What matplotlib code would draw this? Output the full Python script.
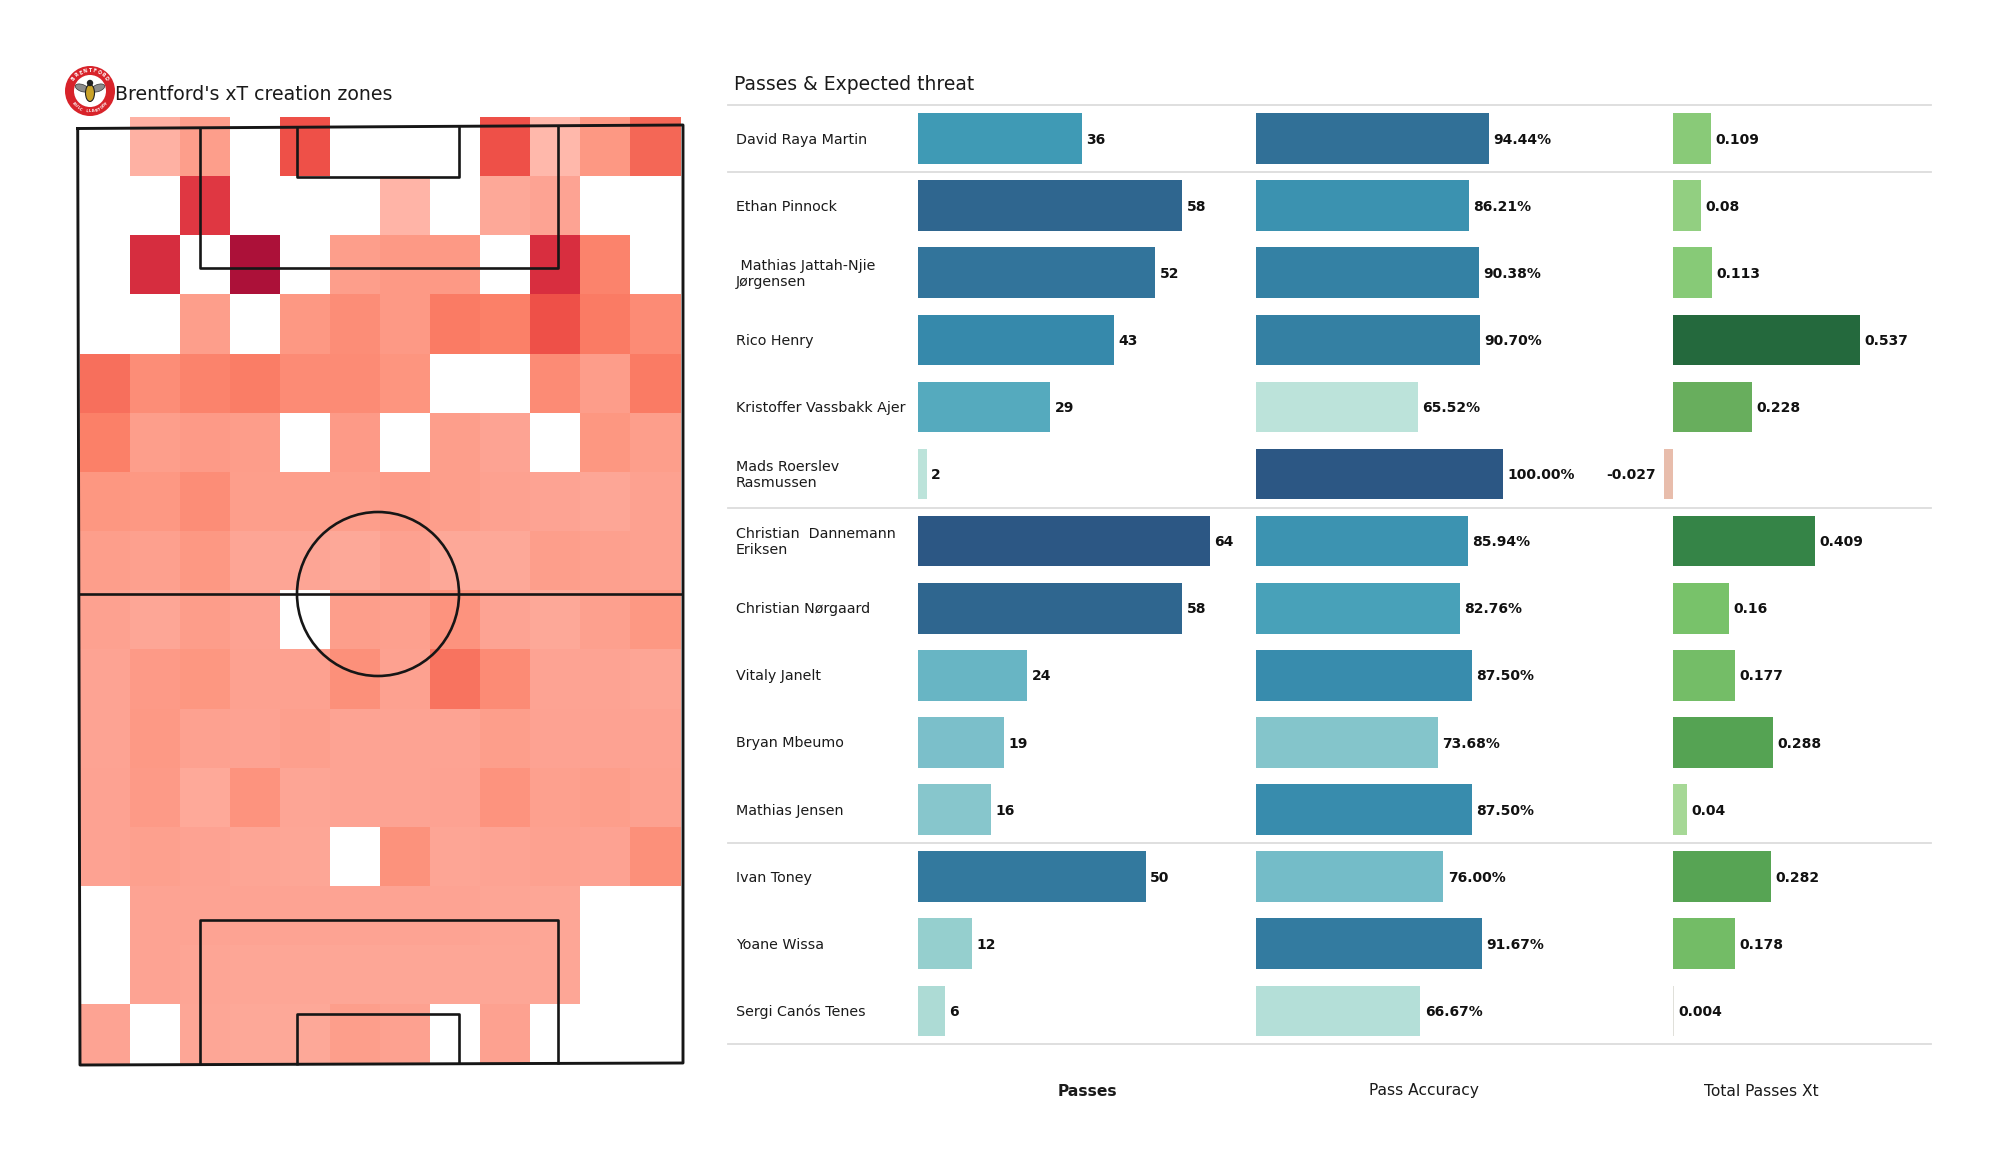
import numpy as np
import matplotlib
matplotlib.use("Agg")
import matplotlib.pyplot as plt
from matplotlib.colors import LinearSegmentedColormap, Normalize
from matplotlib.patches import Circle, Ellipse

W, H = 2000, 1175

# ====== DATA ======
players = ["David Raya Martin", "Ethan Pinnock", " Mathias Jattah-Njie\nJørgensen", "Rico Henry",
           "Kristoffer Vassbakk Ajer", "Mads Roerslev\nRasmussen", "Christian  Dannemann\nEriksen",
           "Christian Nørgaard", "Vitaly Janelt", "Bryan Mbeumo", "Mathias Jensen", "Ivan Toney",
           "Yoane Wissa", "Sergi Canós Tenes"]
passes = [36, 58, 52, 43, 29, 2, 64, 58, 24, 19, 16, 50, 12, 6]
accuracy = [94.44, 86.21, 90.38, 90.70, 65.52, 100.00, 85.94, 82.76, 87.50, 73.68, 87.50, 76.00, 91.67, 66.67]
xt = [0.109, 0.08, 0.113, 0.537, 0.228, -0.027, 0.409, 0.16, 0.177, 0.288, 0.04, 0.282, 0.178, 0.004]
xt_labels = ["0.109", "0.08", "0.113", "0.537", "0.228", "-0.027", "0.409", "0.16", "0.177", "0.288",
             "0.04", "0.282", "0.178", "0.004"]
separators = [-0.5, 0.5, 5.5, 10.5, 13.5]
footers = ["Passes", "Pass Accuracy", "Total Passes Xt"]

N = np.nan
xt_zones = [
    [N, .05, .20, N, .60, N, N, N, .60, .00, .25, .53],
    [N, N, .72, N, N, N, .03, N, .12, .15, N, N],
    [N, .78, N, 1.0, N, .20, .24, .24, N, .77, .38, N],
    [N, N, .20, N, .25, .32, .24, .43, .40, .60, .43, .33],
    [.50, .32, .38, .42, .33, .33, .27, N, N, .33, .21, .43],
    [.40, .20, .23, .21, N, .23, N, .20, .15, N, .26, .20],
    [.26, .25, .32, .20, .20, .20, .22, .20, .17, .15, .13, .17],
    [.20, .18, .25, .14, .14, .12, .17, .12, .12, .20, .18, .17],
    [.17, .13, .21, .16, N, .20, .18, .28, .15, .12, .18, .25],
    [.15, .23, .26, .17, .17, .30, .17, .48, .33, .15, .15, .14],
    [.15, .24, .17, .16, .19, .15, .15, .15, .20, .16, .16, .16],
    [.16, .23, .11, .28, .14, .15, .15, .16, .28, .18, .20, .17],
    [.16, .18, .16, .14, .13, N, .29, .14, .15, .17, .16, .30],
    [N, .15, .15, .15, .15, .15, .15, .15, .14, .13, N, N],
    [N, .15, .14, .13, .13, .13, .13, .13, .13, .13, N, N],
    [.15, N, .13, .12, .12, .20, .17, N, .17, N, N, N],
]

# ====== COLOURS ======
zone_cmap = LinearSegmentedColormap.from_list("zones", [
    (0, "#ffb8ab"), (.15, "#fda393"), (.25, "#fd9883"), (.4, "#fb8068"), (.5, "#f7705c"),
    (.6, "#ee5048"), (.75, "#dc3140"), (1, "#ac1139")])
zone_cmap.set_bad("white")
teal_cmap = LinearSegmentedColormap.from_list("teal", [
    (0, "#bce3da"), (.16, "#95cfce"), (.27, "#7cc0ca"), (.435, "#55aabe"), (.55, "#3f9ab5"),
    (.66, "#3689ab"), (.77, "#337a9f"), (.9, "#2f6790"), (1, "#2c5784")])
xt_cmap = LinearSegmentedColormap.from_list("xt", [
    (0, "#e8bdac"), (.055, "#e0e0da"), (.119, "#a5d895"), (.19, "#92cf80"), (.33, "#78c26a"),
    (.452, "#68ae5d"), (.558, "#55a353"), (.773, "#358447"), (1, "#24693d")])


def axes_px(left, top, right, bottom):
    return fig.add_axes([left / W, 1 - bottom / H, (right - left) / W, (bottom - top) / H])


fig = plt.figure(figsize=(20, 11.75), dpi=100, facecolor="white")

# === HEATMAP ===
ax_heat = axes_px(80, 117, 680.5, 1063.5)
ax_heat.pcolormesh(np.arange(13), np.arange(17), np.ma.masked_invalid(np.array(xt_zones)),
                   cmap=zone_cmap, norm=Normalize(0, 1))
ax_heat.set_xlim(0, 12)
ax_heat.set_ylim(16, 0)
ax_heat.axis("off")

# === BAR COLUMNS ===
ROW_TOP, ROW_BOTTOM = 105, 1044.4
ax_passes = axes_px(917.5, ROW_TOP, 1209.8, ROW_BOTTOM)
ax_acc = axes_px(1256, ROW_TOP, 1502.6, ROW_BOTTOM)
ax_xt = axes_px(1638.2, ROW_TOP, 1881.8, ROW_BOTTOM)

rows = np.arange(len(players))
columns = [
    (ax_passes, passes, (0, 64), teal_cmap, [str(v) for v in passes]),
    (ax_acc, accuracy, (0, 100), teal_cmap, [f"{v:.2f}%" for v in accuracy]),
    (ax_xt, xt, (-0.1, 0.6), xt_cmap, xt_labels),
]
for ax, values, xlim, cmap, labels in columns:
    norm = Normalize(min(values), max(values))
    ax.barh(rows, values, height=0.755, color=[cmap(norm(v)) for v in values])
    for row, value, label in zip(rows, values, labels):
        offset, align = (-5.5, "right") if value < 0 else (3.2, "left")
        ax.annotate(label, (value, row), xytext=(offset, -0.8), textcoords="offset points",
                    ha=align, va="center", fontsize=10, fontweight="bold", color="#111111")
    ax.set_xlim(*xlim)
    ax.set_ylim(13.5, -0.5)
    ax.axis("off")

# === OVERLAY: pitch, names, titles ===
ax_top = fig.add_axes([0, 0, 1, 1], zorder=5)
ax_top.set_xlim(0, W)
ax_top.set_ylim(H, 0)
ax_top.axis("off")
ax_top.patch.set_alpha(0)

LINE = "#161616"
# outer edge is a little skewed in the picture
ax_top.plot([77.7, 683, 683, 80, 77.7], [128.5, 125, 1063, 1065, 128.5], color=LINE, lw=2.1)
ax_top.plot([79, 683], [593.5, 593.5], color=LINE, lw=1.9, solid_capstyle="butt")
for x0, x1, y_top, y_bottom in ((200.4, 558, 268, 920), (297, 459, 177, 1013.5)):
    ax_top.plot([x0, x0, x1, x1], [127, y_top, y_top, 126], color=LINE, lw=1.9, solid_capstyle="butt")
    ax_top.plot([x0, x0, x1, x1], [1064.5, y_bottom, y_bottom, 1063.5], color=LINE, lw=1.9, solid_capstyle="butt")
ax_top.add_patch(Ellipse((378, 594), 162, 164, fc="none", ec=LINE, lw=1.9))

# club badge
BX, BY = 90, 91
ax_top.add_patch(Circle((BX, BY), 25, fc="#d8232a", ec="none"))
ax_top.add_patch(Circle((BX, BY), 16, fc="white", ec="none"))
ax_top.add_patch(Ellipse((BX - 8, BY - 3), 14, 7, angle=20, fc="#8c8c8c", ec="#333333", lw=0.5))
ax_top.add_patch(Ellipse((BX + 8, BY - 3), 14, 7, angle=-20, fc="#8c8c8c", ec="#333333", lw=0.5))
ax_top.add_patch(Ellipse((BX, BY + 2), 9, 17, fc="#c9a227", ec="#222222", lw=0.8))
ax_top.add_patch(Circle((BX, BY - 8), 3.2, fc="#222222", ec="none"))
for i, ch in enumerate("BRENTFORD"):
    a = np.deg2rad(-52 + i * 13)
    ax_top.text(BX + 20.5 * np.sin(a), BY - 20.5 * np.cos(a), ch, fontsize=3.4, fontweight="bold", color="white",
                rotation=-np.rad2deg(a), rotation_mode="anchor", ha="center", va="center")
for i, ch in enumerate("FOOTBALL CLUB"):
    a = np.deg2rad(54 - i * 9)
    ax_top.text(BX + 20.5 * np.sin(a), BY + 20.5 * np.cos(a), ch, fontsize=2.6, fontweight="bold", color="white",
                rotation=np.rad2deg(a), rotation_mode="anchor", ha="center", va="center")

ax_top.text(115, 94, "Brentford's xT creation zones", fontsize=13.55, va="center", color="#1a1a1a")
ax_top.text(734, 84, "Passes & Expected threat", fontsize=13.5, va="center", color="#1a1a1a")

row_h = (ROW_BOTTOM - ROW_TOP) / len(players)
for sep in separators:
    ax_top.plot([728, 1931], [ROW_TOP + (sep + .5) * row_h] * 2, color="#dcdcdc", lw=1.3, zorder=1)
for row, name in zip(rows, players):
    ax_top.text(736, ROW_TOP + (row + .5) * row_h + 1, name, fontsize=10.3, va="center", ha="left",
                color="#1a1a1a", linespacing=1.22)

for x, label, weight in zip((1087, 1424, 1761.5), footers, ("bold", "normal", "normal")):
    ax_top.text(x, 1091, label, fontsize=11.2, ha="center", va="center", fontweight=weight, color="#1a1a1a")

fig.savefig("out.png", dpi=100)
